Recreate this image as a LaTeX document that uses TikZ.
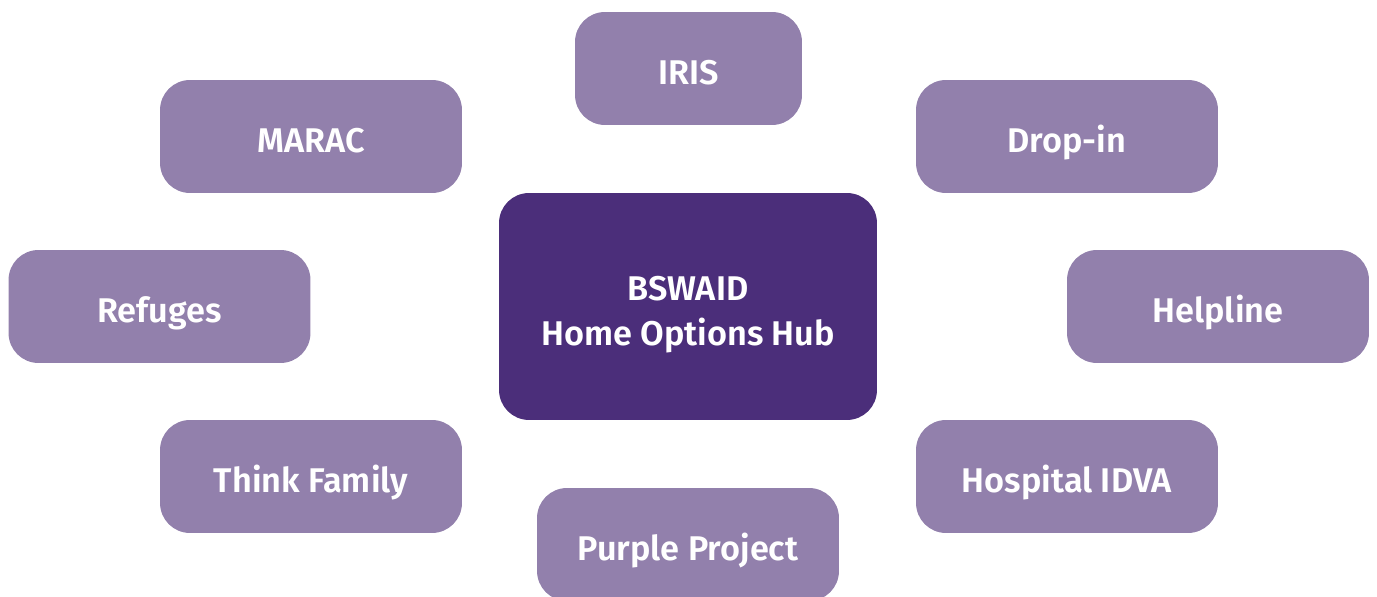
\documentclass[tikz,border=0pt]{standalone}
\usepackage{fontspec}
\setmainfont{Fira Sans}[BoldFont={Fira Sans SemiBold}]
\usepackage{tikz}
\usetikzlibrary{positioning}
\definecolor{lilac}{HTML}{9280AC}
\definecolor{deeppurple}{HTML}{4B2E7A}

\begin{document}
\begin{tikzpicture}[x=0.02cm,y=-0.02cm]
	\tikzset{service/.style = {rectangle,rounded corners=0.6cm,fill=lilac,text=white,
		minimum width=6.04cm,minimum height=2.26cm,text height=23.4pt,text depth=4.9pt,
		font=\fontsize{19.5}{25.5}\selectfont\bfseries}}
	\tikzset{hub/.style = {service,fill=deeppurple,minimum width=7.56cm,minimum height=4.54cm,
		align=center,text height=50pt,text depth=5.4pt}}
	\useasboundingbox (0,0) rectangle (1377,597);
	% centre
	\node[hub] (hub) at (688,306.5) {BSWAID\\Home Options Hub};
	% services round it
	\node[service,minimum width=4.54cm] (iris) at (688.5,68.5) {IRIS};
	\node[service] (marac) at (311,136.5) {MARAC};
	\node[service] (dropin) at (1067,136.5) {Drop-in};
	\node[service] (refuges) at (159.5,306.5) {Refuges};
	\node[service] (helpline) at (1218,306.5) {Helpline};
	\node[service] (think) at (311,476.5) {Think Family};
	\node[service] (idva) at (1067,476.5) {Hospital IDVA};
	\node[service] (purple) at (688,544.5) {Purple Project};
\end{tikzpicture}
\end{document}
